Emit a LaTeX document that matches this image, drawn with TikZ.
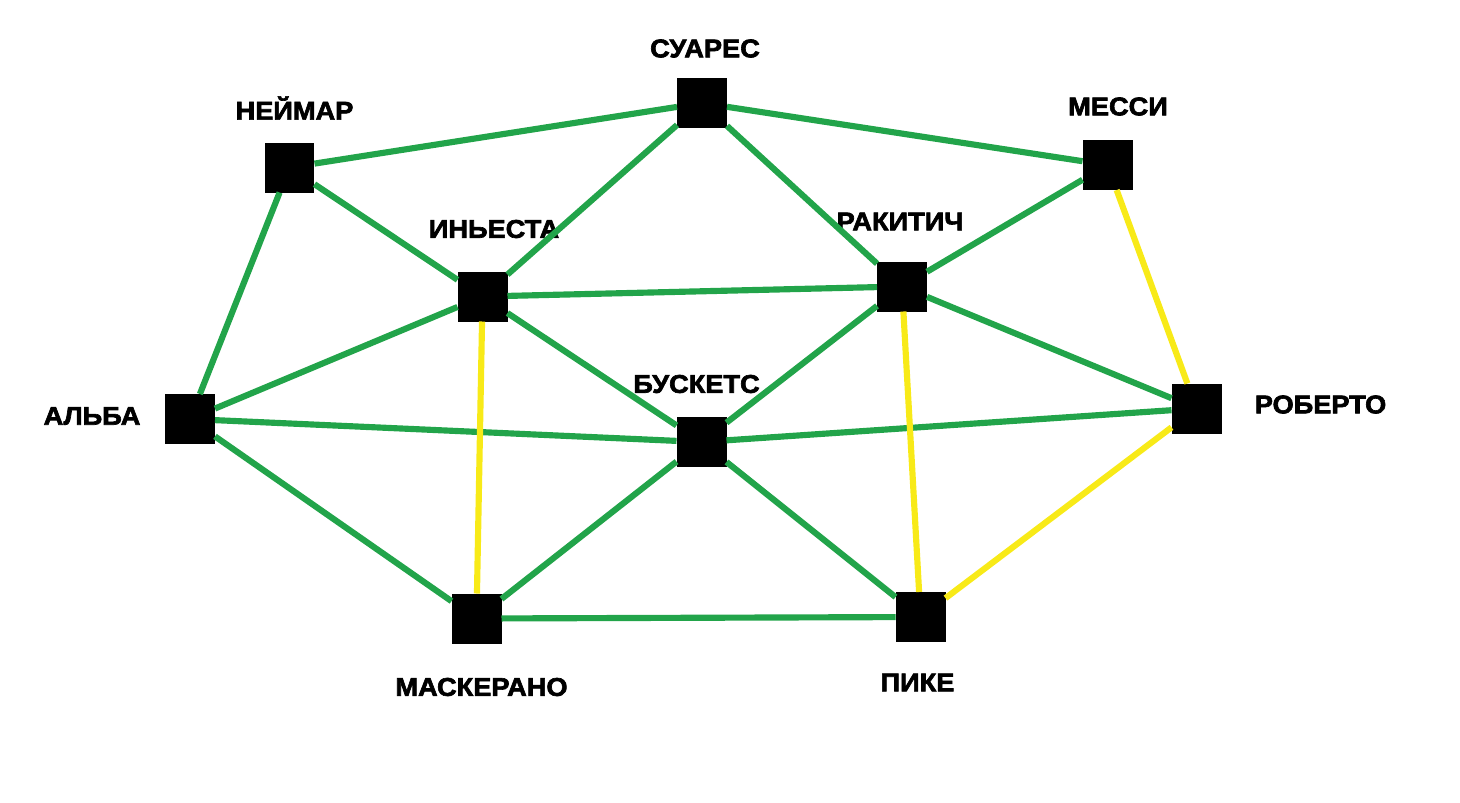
\documentclass[tikz,border=0pt]{standalone}
\usepackage{fontspec}
\setmainfont{Liberation Sans}[FakeStretch=1.06, BoldFeatures={FakeBold=2.5}]
\usetikzlibrary{positioning}
\definecolor{edgegreen}{HTML}{22A44A}
\definecolor{edgeyellow}{HTML}{F8EA18}

\begin{document}
\begin{tikzpicture}[x=0.02cm, y=-0.02cm]
  \tikzstyle{player}=[rectangle, fill=black, minimum size=1cm,
                      inner sep=0pt, outer sep=0pt]
  \tikzstyle{plabel}=[font=\fontsize{14.6}{17}\selectfont\bfseries,
                      inner sep=0pt, text centered]
  \tikzstyle{pass}=[line width=3.5pt, color=edgegreen]
  \tikzstyle{weak}=[line width=3.5pt, color=edgeyellow]

  \useasboundingbox (0,0) rectangle (1460,802);

  % squares
  \node[player](suares) at (702,103){};
  \node[player](neymar) at (289.5,167.5){};
  \node[player](messi) at (1107.5,165){};
  \node[player](iniesta) at (482.5,296.5){};
  \node[player](rakitic) at (902,286.5){};
  \node[player](alba) at (190,419){};
  \node[player](busquets) at (701.5,442){};
  \node[player](roberto) at (1196.5,408.5){};
  \node[player](mascherano) at (476.5,618.5){};
  \node[player](pique) at (920.5,617){};

  % names
  \node[plabel](suares-l) at (705,48.5){СУАРЕС};
  \node[plabel](neymar-l) at (294.5,108){НЕЙМАР};
  \node[plabel](messi-l) at (1118,106.5){МЕССИ};
  \node[plabel](iniesta-l) at (494,229){ИНЬЕСТА};
  \node[plabel](rakitic-l) at (900,221.5){РАКИТИЧ};
  \node[plabel](alba-l) at (92,416){АЛЬБА};
  \node[plabel](busquets-l) at (696.5,384){БУСКЕТС};
  \node[plabel](roberto-l) at (1320.5,404.5){РОБЕРТО};
  \node[plabel](mascherano-l) at (481.5,687){МАСКЕРАНО};
  \node[plabel](pique-l) at (917.5,682.5){ПИКЕ};

  % green links
  \draw[pass](neymar)--(suares);
  \draw[pass](suares)--(messi);
  \draw[pass](suares)--(iniesta);
  \draw[pass](suares)--(rakitic);
  \draw[pass](neymar)--(iniesta);
  \draw[pass](neymar)--(alba);
  \draw[pass](iniesta)--(rakitic);
  \draw[pass](messi)--(rakitic);
  \draw[pass](iniesta)--(alba);
  \draw[pass](iniesta)--(busquets);
  \draw[pass](rakitic)--(busquets);
  \draw[pass](rakitic)--(roberto);
  \draw[pass](alba)--(busquets);
  \draw[pass](busquets)--(roberto);
  \draw[pass](alba)--(mascherano);
  \draw[pass](busquets)--(mascherano);
  \draw[pass](busquets)--(pique);
  \draw[pass](mascherano)--(pique);

  % yellow links
  \draw[weak](messi)--(roberto);
  \draw[weak](iniesta)--(mascherano);
  \draw[weak](rakitic)--(pique);
  \draw[weak](roberto)--(pique);
\end{tikzpicture}
\end{document}
